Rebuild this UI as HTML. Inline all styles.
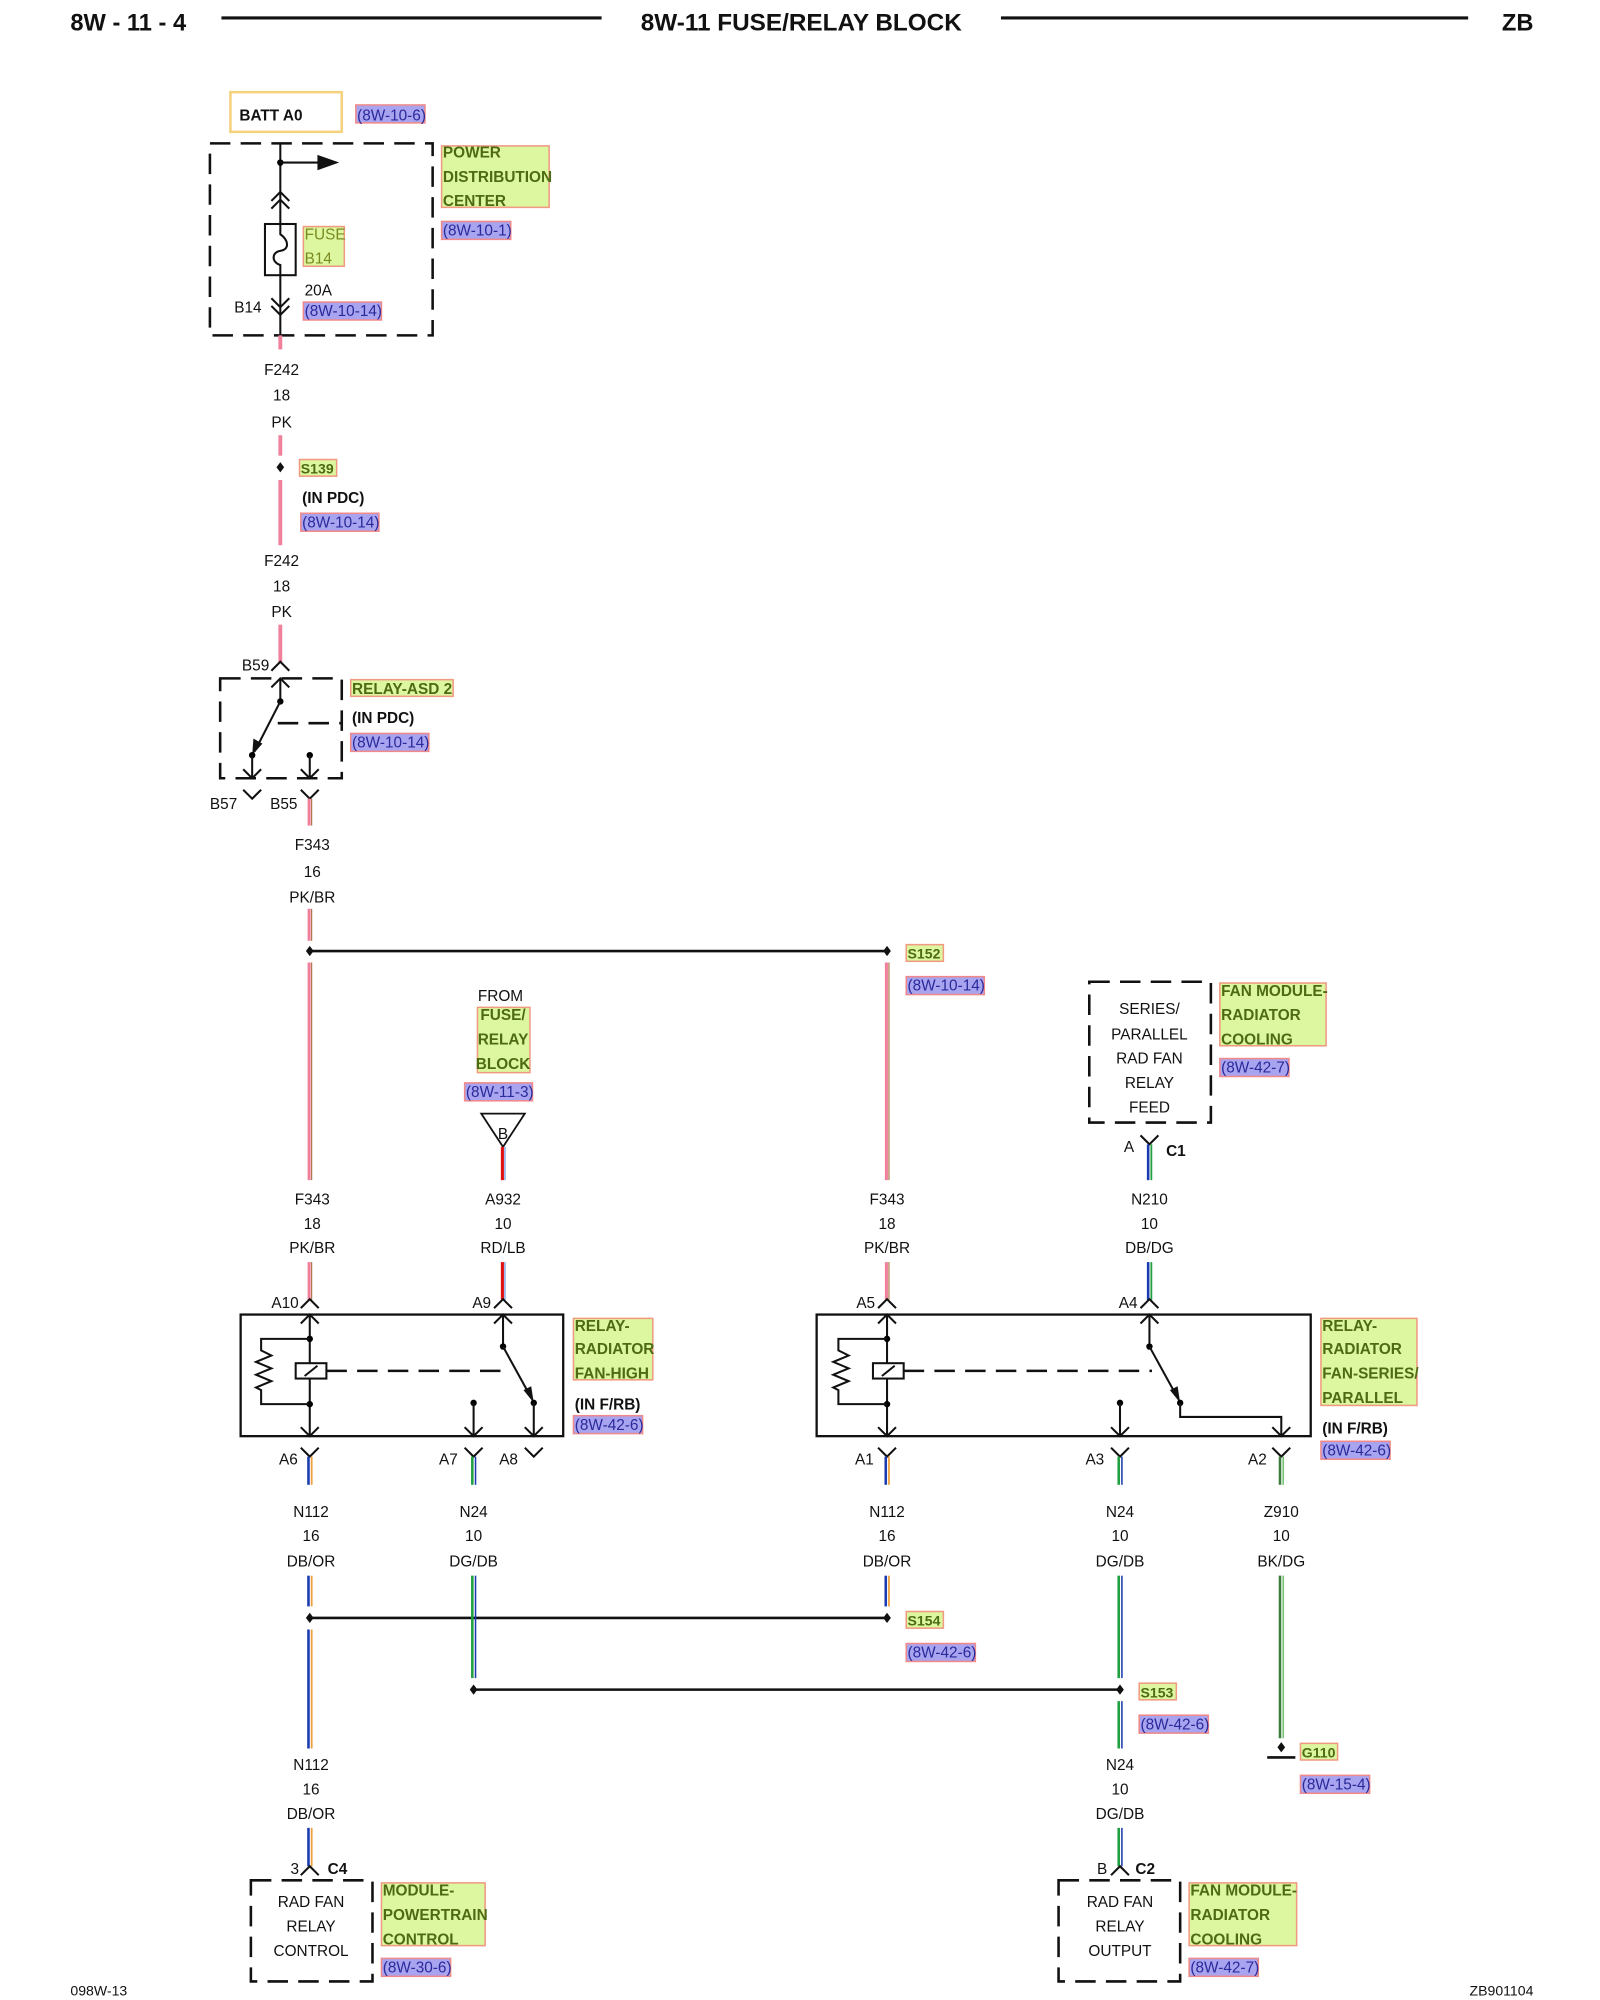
<!DOCTYPE html>
<html><head><meta charset="utf-8"><style>
html,body{margin:0;padding:0;background:#fff;}
svg{display:block;}
text{font-family:"Liberation Sans",Arial,sans-serif;font-size:12px;fill:#111;}
.b{font-weight:bold;}
.c{text-anchor:middle;}
.g{fill:#4d6b12;font-weight:bold;}
.gl{fill:#7a8a20;}
.r{fill:#2a2a9a;}
.gb{fill:#dcf7a0;stroke:#f09a80;stroke-width:1.2;}
.rb{fill:#a8a4f0;stroke:#f08a8a;stroke-width:1.2;}
.ln{stroke:#111;stroke-width:1.6;fill:none;}
.dash{stroke:#111;stroke-width:2;fill:none;stroke-dasharray:16,8;}
</style></head><body>
<svg width="1600" height="2000" viewBox="0 0 1250 1562.5" xmlns="http://www.w3.org/2000/svg">
<!-- header -->
<text x="55" y="24" class="b" style="font-size:18.5px">8W - 11 - 4</text>
<line x1="173" y1="14" x2="470" y2="14" stroke="#111" stroke-width="2.5"/>
<text x="626" y="24" class="b c" style="font-size:19px">8W-11 FUSE/RELAY BLOCK</text>
<line x1="782" y1="14" x2="1147" y2="14" stroke="#111" stroke-width="2.5"/>
<text x="1198" y="24" class="b" text-anchor="end" style="font-size:18.5px">ZB</text>

<!-- BATT -->
<rect x="180" y="72" width="87" height="31" fill="none" stroke="#f5d27e" stroke-width="2"/>
<text x="187" y="94" class="b">BATT A0</text>
<rect x="278" y="82" width="54" height="14" class="rb"/><text x="279" y="94" class="r">(8W-10-6)</text>

<!-- PDC -->
<rect x="164" y="112" width="174" height="150" class="dash"/>
<line x1="219" y1="112" x2="219" y2="175" class="ln"/>
<circle cx="219" cy="127" r="2.5"/>
<line x1="219" y1="127" x2="250" y2="127" class="ln"/>
<polygon points="248,121 265,127 248,133" fill="#111"/>
<path d="M212,157 L219,150 L226,157 M212,163 L219,156 L226,163" class="ln"/>
<rect x="207" y="175" width="24" height="40" class="ln"/>
<path d="M219,175 L219,183 C226,188 226,195 219,196 C212,197 212,205 219,207 L219,215" class="ln"/>
<line x1="219" y1="215" x2="219" y2="262" class="ln"/>
<path d="M212,233 L219,240 L226,233 M212,239 L219,246 L226,239" class="ln"/>
<text x="183" y="244">B14</text>
<rect x="237" y="177" width="32" height="31" class="gb"/>
<text x="238" y="187" class="gl">FUSE</text><text x="238" y="206" class="gl">B14</text>
<text x="238" y="231">20A</text>
<rect x="237" y="236" width="61" height="14" class="rb"/><text x="238" y="247" class="r">(8W-10-14)</text>
<rect x="345" y="114" width="84" height="48" class="gb"/>
<text x="346" y="123" class="g">POWER</text><text x="346" y="142" class="g">DISTRIBUTION</text><text x="346" y="161" class="g">CENTER</text>
<rect x="345" y="173" width="54" height="14" class="rb"/><text x="346" y="184" class="r">(8W-10-1)</text>

<!-- F242 -->
<line x1="219" y1="262" x2="219" y2="273" stroke="#f0809c" stroke-width="3"/>
<text x="220" y="293" class="c">F242</text><text x="220" y="313" class="c">18</text><text x="220" y="334" class="c">PK</text>
<line x1="219" y1="340" x2="219" y2="356" stroke="#f0809c" stroke-width="3"/>
<polygon points="219,361 222,365 219,369 216,365" fill="#111"/>
<rect x="234" y="359" width="29" height="13" class="gb"/><text x="235" y="370" class="g" style="font-size:11px">S139</text>
<text x="236" y="393" class="b">(IN PDC)</text>
<rect x="235" y="401" width="61" height="14" class="rb"/><text x="236" y="412" class="r">(8W-10-14)</text>
<line x1="219" y1="375" x2="219" y2="426" stroke="#f0809c" stroke-width="3"/>
<text x="220" y="442" class="c">F242</text><text x="220" y="462" class="c">18</text><text x="220" y="482" class="c">PK</text>
<line x1="219" y1="488" x2="219" y2="518" stroke="#f0809c" stroke-width="3"/>
<path d="M212,524 L219,517 L226,524" class="ln"/>
<text x="189" y="524">B59</text>

<!-- ASD relay -->
<rect x="172" y="530" width="95" height="78" class="dash"/>
<path d="M212,537 L219,530 L226,537" class="ln"/>
<line x1="219" y1="530" x2="219" y2="548" class="ln"/>
<circle cx="219" cy="548" r="2.5"/>
<line x1="219" y1="548" x2="199" y2="587" class="ln"/>
<polygon points="197,590 198,577 205,581" fill="#111"/>
<line x1="217" y1="565" x2="267" y2="565" class="dash"/>
<circle cx="197" cy="590" r="2.5"/><line x1="197" y1="590" x2="197" y2="608" class="ln"/>
<path d="M190,601 L197,608 L204,601" class="ln"/>
<circle cx="242" cy="590" r="2.5"/><line x1="242" y1="590" x2="242" y2="608" class="ln"/>
<path d="M235,601 L242,608 L249,601" class="ln"/>
<rect x="274" y="531" width="80" height="13" class="gb"/><text x="275" y="542" class="g">RELAY-ASD 2</text>
<text x="275" y="565" class="b">(IN PDC)</text>
<rect x="274" y="573" width="61" height="14" class="rb"/><text x="275" y="584" class="r">(8W-10-14)</text>
<path d="M190,617 L197,624 L204,617" class="ln"/><text x="164" y="632">B57</text>
<path d="M235,617 L242,624 L249,617" class="ln"/><text x="211" y="632">B55</text>

<!-- F343 -->
<line x1="241.5" y1="624" x2="241.5" y2="645" stroke="#f0809c" stroke-width="2.4"/><line x1="243.5" y1="624" x2="243.5" y2="645" stroke="#a0602a" stroke-width="0.8"/>
<text x="244" y="664" class="c">F343</text><text x="244" y="685" class="c">16</text><text x="244" y="705" class="c">PK/BR</text>
<line x1="241.5" y1="710" x2="241.5" y2="735" stroke="#f0809c" stroke-width="2.4"/><line x1="243.5" y1="710" x2="243.5" y2="735" stroke="#a0602a" stroke-width="0.8"/>
<polygon points="242,739 245,743 242,747 239,743" fill="#111"/>
<line x1="242" y1="743" x2="693" y2="743" stroke="#111" stroke-width="2"/>
<polygon points="693,739 696,743 693,747 690,743" fill="#111"/>
<rect x="708" y="738" width="29" height="13" class="gb"/><text x="709" y="749" class="g" style="font-size:11px">S152</text>
<rect x="708" y="763" width="61" height="14" class="rb"/><text x="709" y="774" class="r">(8W-10-14)</text>
<line x1="241.5" y1="752" x2="241.5" y2="922" stroke="#f0809c" stroke-width="2.4"/><line x1="243.5" y1="752" x2="243.5" y2="922" stroke="#a0602a" stroke-width="0.8"/>
<line x1="692.5" y1="752" x2="692.5" y2="922" stroke="#f0809c" stroke-width="2.4"/><line x1="694.5" y1="752" x2="694.5" y2="922" stroke="#a0602a" stroke-width="0.8"/>

<!-- from fuse relay block -->
<text x="391" y="782" class="c">FROM</text>
<rect x="373" y="787" width="41" height="51" class="gb"/>
<text x="393" y="797" class="g c">FUSE/</text><text x="393" y="816" class="g c">RELAY</text><text x="393" y="835" class="g c">BLOCK</text>
<rect x="363" y="846" width="53" height="14" class="rb"/><text x="364" y="857" class="r">(8W-11-3)</text>
<polygon points="376,870 410,870 393,896" fill="none" stroke="#111" stroke-width="1.4"/>
<text x="393" y="890" class="c">B</text>
<line x1="392.5" y1="896" x2="392.5" y2="922" stroke="#e01010" stroke-width="2.4"/><line x1="394.5" y1="896" x2="394.5" y2="922" stroke="#5080e0" stroke-width="0.8"/>

<!-- series parallel feed -->
<rect x="851" y="767" width="95" height="110" class="dash"/>
<text x="898" y="792" class="c">SERIES/</text><text x="898" y="812" class="c">PARALLEL</text><text x="898" y="831" class="c">RAD FAN</text><text x="898" y="850" class="c">RELAY</text><text x="898" y="869" class="c">FEED</text>
<rect x="953" y="768" width="83" height="49" class="gb"/>
<text x="954" y="778" class="g">FAN MODULE-</text><text x="954" y="797" class="g">RADIATOR</text><text x="954" y="816" class="g">COOLING</text>
<rect x="953" y="827" width="54" height="14" class="rb"/><text x="954" y="838" class="r">(8W-42-7)</text>
<path d="M891,887 L898,894 L905,887" class="ln"/>
<text x="878" y="900">A</text><text x="911" y="903" class="b">C1</text>
<line x1="897" y1="894" x2="897" y2="922" stroke="#1a3ab0" stroke-width="2"/><line x1="899.5" y1="894" x2="899.5" y2="922" stroke="#20a040" stroke-width="1.4"/>

<!-- wire labels row -->
<text x="244" y="941" class="c">F343</text><text x="244" y="960" class="c">18</text><text x="244" y="979" class="c">PK/BR</text>
<text x="393" y="941" class="c">A932</text><text x="393" y="960" class="c">10</text><text x="393" y="979" class="c">RD/LB</text>
<text x="693" y="941" class="c">F343</text><text x="693" y="960" class="c">18</text><text x="693" y="979" class="c">PK/BR</text>
<text x="898" y="941" class="c">N210</text><text x="898" y="960" class="c">10</text><text x="898" y="979" class="c">DB/DG</text>
<line x1="241.5" y1="986" x2="241.5" y2="1016" stroke="#f0809c" stroke-width="2.4"/><line x1="243.5" y1="986" x2="243.5" y2="1016" stroke="#a0602a" stroke-width="0.8"/>
<line x1="392.5" y1="986" x2="392.5" y2="1016" stroke="#e01010" stroke-width="2.4"/><line x1="394.5" y1="986" x2="394.5" y2="1016" stroke="#5080e0" stroke-width="0.8"/>
<line x1="692.5" y1="986" x2="692.5" y2="1016" stroke="#f0809c" stroke-width="2.4"/><line x1="694.5" y1="986" x2="694.5" y2="1016" stroke="#a0602a" stroke-width="0.8"/>
<line x1="897" y1="986" x2="897" y2="1016" stroke="#1a3ab0" stroke-width="2"/><line x1="899.5" y1="986" x2="899.5" y2="1016" stroke="#20a040" stroke-width="1.4"/>
<path d="M235,1022 L242,1015 L249,1022" class="ln"/><text x="212" y="1022">A10</text>
<path d="M386,1022 L393,1015 L400,1022" class="ln"/><text x="369" y="1022">A9</text>
<path d="M686,1022 L693,1015 L700,1022" class="ln"/><text x="669" y="1022">A5</text>
<path d="M891,1022 L898,1015 L905,1022" class="ln"/><text x="874" y="1022">A4</text>

<!-- relay 1 -->
<rect x="188" y="1027" width="252" height="95" fill="none" stroke="#111" stroke-width="1.8"/>
<line x1="242" y1="1027" x2="242" y2="1122" class="ln"/>
<path d="M235,1034 L242,1027 L249,1034 M235,1115 L242,1122 L249,1115" class="ln"/>
<circle cx="242" cy="1046" r="2.5"/><circle cx="242" cy="1097" r="2.5"/>
<path d="M242,1046 L204,1046 L204,1055 L212,1059 L200,1064 L212,1069 L200,1074 L212,1079 L200,1084 L204,1086 L204,1097 L242,1097" class="ln"/>
<rect x="231" y="1065" width="24" height="12" fill="#fff" stroke="#111" stroke-width="1.6"/>
<line x1="238" y1="1075" x2="248" y2="1067" class="ln"/>
<line x1="255" y1="1071" x2="393" y2="1071" class="dash" stroke-width="1.4"/>
<line x1="393" y1="1027" x2="393" y2="1052" class="ln"/>
<path d="M386,1034 L393,1027 L400,1034" class="ln"/>
<circle cx="393" cy="1052" r="2.5"/>
<line x1="393" y1="1052" x2="415" y2="1092" class="ln"/>
<polygon points="417,1096 409,1086 415,1083" fill="#111"/>
<circle cx="417" cy="1096" r="2.5"/><line x1="417" y1="1096" x2="417" y2="1122" class="ln"/>
<path d="M410,1115 L417,1122 L424,1115" class="ln"/>
<circle cx="370" cy="1096" r="2.5"/><line x1="370" y1="1096" x2="370" y2="1122" class="ln"/>
<path d="M363,1115 L370,1122 L377,1115" class="ln"/>
<rect x="448" y="1030" width="62" height="48" class="gb"/>
<text x="449" y="1040" class="g">RELAY-</text><text x="449" y="1058" class="g">RADIATOR</text><text x="449" y="1077" class="g">FAN-HIGH</text>
<text x="449" y="1101" class="b">(IN F/RB)</text>
<rect x="448" y="1106" width="54" height="14" class="rb"/><text x="449" y="1117" class="r">(8W-42-6)</text>

<!-- relay 2 -->
<rect x="638" y="1027" width="386" height="95" fill="none" stroke="#111" stroke-width="1.8"/>
<line x1="693" y1="1027" x2="693" y2="1122" class="ln"/>
<path d="M686,1034 L693,1027 L700,1034 M686,1115 L693,1122 L700,1115" class="ln"/>
<circle cx="693" cy="1046" r="2.5"/><circle cx="693" cy="1097" r="2.5"/>
<path d="M693,1046 L655,1046 L655,1055 L663,1059 L651,1064 L663,1069 L651,1074 L663,1079 L651,1084 L655,1086 L655,1097 L693,1097" class="ln"/>
<rect x="682" y="1065" width="24" height="12" fill="#fff" stroke="#111" stroke-width="1.6"/>
<line x1="689" y1="1075" x2="699" y2="1067" class="ln"/>
<line x1="706" y1="1071" x2="900" y2="1071" class="dash" stroke-width="1.4"/>
<line x1="898" y1="1027" x2="898" y2="1052" class="ln"/>
<path d="M891,1034 L898,1027 L905,1034" class="ln"/>
<circle cx="898" cy="1052" r="2.5"/>
<line x1="898" y1="1052" x2="920" y2="1092" class="ln"/>
<polygon points="922,1096 914,1086 920,1083" fill="#111"/>
<circle cx="922" cy="1096" r="2.5"/>
<path d="M922,1096 L922,1107 L1001,1107 L1001,1122" class="ln"/>
<path d="M994,1115 L1001,1122 L1008,1115" class="ln"/>
<circle cx="875" cy="1096" r="2.5"/><line x1="875" y1="1096" x2="875" y2="1122" class="ln"/>
<path d="M868,1115 L875,1122 L882,1115" class="ln"/>
<rect x="1032" y="1030" width="75" height="68" class="gb"/>
<text x="1033" y="1040" class="g">RELAY-</text><text x="1033" y="1058" class="g">RADIATOR</text><text x="1033" y="1077" class="g">FAN-SERIES/</text><text x="1033" y="1096" class="g">PARALLEL</text>
<text x="1033" y="1120" class="b">(IN F/RB)</text>
<rect x="1032" y="1126" width="54" height="14" class="rb"/><text x="1033" y="1137" class="r">(8W-42-6)</text>

<!-- lower pins -->
<path d="M235,1131 L242,1138 L249,1131" class="ln"/><text x="218" y="1144">A6</text>
<path d="M363,1131 L370,1138 L377,1131" class="ln"/><text x="343" y="1144">A7</text>
<path d="M410,1131 L417,1138 L424,1131" class="ln"/><text x="390" y="1144">A8</text>
<path d="M686,1131 L693,1138 L700,1131" class="ln"/><text x="668" y="1144">A1</text>
<path d="M868,1131 L875,1138 L882,1131" class="ln"/><text x="848" y="1144">A3</text>
<path d="M994,1131 L1001,1138 L1008,1131" class="ln"/><text x="975" y="1144">A2</text>
<line x1="241" y1="1138" x2="241" y2="1160" stroke="#1a3ab0" stroke-width="2"/><line x1="243.5" y1="1138" x2="243.5" y2="1160" stroke="#f0a040" stroke-width="1.4"/>
<line x1="369" y1="1138" x2="369" y2="1160" stroke="#20a040" stroke-width="2"/><line x1="371.5" y1="1138" x2="371.5" y2="1160" stroke="#1a3ab0" stroke-width="1.2"/>
<line x1="692" y1="1138" x2="692" y2="1160" stroke="#1a3ab0" stroke-width="2"/><line x1="694.5" y1="1138" x2="694.5" y2="1160" stroke="#f0a040" stroke-width="1.4"/>
<line x1="874" y1="1138" x2="874" y2="1160" stroke="#20a040" stroke-width="2"/><line x1="876.5" y1="1138" x2="876.5" y2="1160" stroke="#1a3ab0" stroke-width="1.2"/>
<line x1="1000" y1="1138" x2="1000" y2="1160" stroke="#3a7a3a" stroke-width="2"/><line x1="1002.5" y1="1138" x2="1002.5" y2="1160" stroke="#70c070" stroke-width="1.2"/>
<text x="243" y="1185" class="c">N112</text><text x="243" y="1204" class="c">16</text><text x="243" y="1224" class="c">DB/OR</text>
<text x="370" y="1185" class="c">N24</text><text x="370" y="1204" class="c">10</text><text x="370" y="1224" class="c">DG/DB</text>
<text x="693" y="1185" class="c">N112</text><text x="693" y="1204" class="c">16</text><text x="693" y="1224" class="c">DB/OR</text>
<text x="875" y="1185" class="c">N24</text><text x="875" y="1204" class="c">10</text><text x="875" y="1224" class="c">DG/DB</text>
<text x="1001" y="1185" class="c">Z910</text><text x="1001" y="1204" class="c">10</text><text x="1001" y="1224" class="c">BK/DG</text>

<!-- lower wires -->
<line x1="241" y1="1231" x2="241" y2="1255" stroke="#1a3ab0" stroke-width="2"/><line x1="243.5" y1="1231" x2="243.5" y2="1255" stroke="#f0a040" stroke-width="1.4"/>
<line x1="692" y1="1231" x2="692" y2="1255" stroke="#1a3ab0" stroke-width="2"/><line x1="694.5" y1="1231" x2="694.5" y2="1255" stroke="#f0a040" stroke-width="1.4"/>
<polygon points="242,1260 245,1264 242,1268 239,1264" fill="#111"/>
<polygon points="693,1260 696,1264 693,1268 690,1264" fill="#111"/>
<line x1="242" y1="1264" x2="693" y2="1264" stroke="#111" stroke-width="2"/>
<rect x="708" y="1259" width="29" height="13" class="gb"/><text x="709" y="1270" class="g" style="font-size:11px">S154</text>
<rect x="708" y="1284" width="54" height="14" class="rb"/><text x="709" y="1295" class="r">(8W-42-6)</text>
<line x1="241" y1="1273" x2="241" y2="1366" stroke="#1a3ab0" stroke-width="2"/><line x1="243.5" y1="1273" x2="243.5" y2="1366" stroke="#f0a040" stroke-width="1.4"/>
<line x1="369" y1="1231" x2="369" y2="1311" stroke="#20a040" stroke-width="2"/><line x1="371.5" y1="1231" x2="371.5" y2="1311" stroke="#1a3ab0" stroke-width="1.2"/>
<line x1="874" y1="1231" x2="874" y2="1311" stroke="#20a040" stroke-width="2"/><line x1="876.5" y1="1231" x2="876.5" y2="1311" stroke="#1a3ab0" stroke-width="1.2"/>
<polygon points="370,1316 373,1320 370,1324 367,1320" fill="#111"/>
<polygon points="875,1316 878,1320 875,1324 872,1320" fill="#111"/>
<line x1="370" y1="1320" x2="875" y2="1320" stroke="#111" stroke-width="2"/>
<rect x="890" y="1315" width="29" height="13" class="gb"/><text x="891" y="1326" class="g" style="font-size:11px">S153</text>
<rect x="890" y="1340" width="54" height="14" class="rb"/><text x="891" y="1351" class="r">(8W-42-6)</text>
<line x1="874" y1="1329" x2="874" y2="1366" stroke="#20a040" stroke-width="2"/><line x1="876.5" y1="1329" x2="876.5" y2="1366" stroke="#1a3ab0" stroke-width="1.2"/>
<line x1="1000" y1="1231" x2="1000" y2="1358" stroke="#3a7a3a" stroke-width="2"/><line x1="1002.5" y1="1231" x2="1002.5" y2="1358" stroke="#70c070" stroke-width="1.2"/>
<polygon points="1001,1361 1004,1365 1001,1369 998,1365" fill="#111"/>
<line x1="990" y1="1373" x2="1012" y2="1373" stroke="#111" stroke-width="2"/>
<rect x="1016" y="1362" width="29" height="13" class="gb"/><text x="1017" y="1373" class="g" style="font-size:11px">G110</text>
<rect x="1016" y="1387" width="54" height="14" class="rb"/><text x="1017" y="1398" class="r">(8W-15-4)</text>

<text x="243" y="1383" class="c">N112</text><text x="243" y="1402" class="c">16</text><text x="243" y="1421" class="c">DB/OR</text>
<text x="875" y="1383" class="c">N24</text><text x="875" y="1402" class="c">10</text><text x="875" y="1421" class="c">DG/DB</text>
<line x1="241" y1="1428" x2="241" y2="1458" stroke="#1a3ab0" stroke-width="2"/><line x1="243.5" y1="1428" x2="243.5" y2="1458" stroke="#f0a040" stroke-width="1.4"/>
<line x1="874" y1="1428" x2="874" y2="1458" stroke="#20a040" stroke-width="2"/><line x1="876.5" y1="1428" x2="876.5" y2="1458" stroke="#1a3ab0" stroke-width="1.2"/>
<path d="M235,1465 L242,1458 L249,1465" class="ln"/><text x="227" y="1464">3</text><text x="256" y="1464" class="b">C4</text>
<path d="M868,1465 L875,1458 L882,1465" class="ln"/><text x="857" y="1464">B</text><text x="887" y="1464" class="b">C2</text>

<!-- bottom boxes -->
<rect x="196" y="1469" width="95" height="79" class="dash"/>
<text x="243" y="1490" class="c">RAD FAN</text><text x="243" y="1509" class="c">RELAY</text><text x="243" y="1528" class="c">CONTROL</text>
<rect x="298" y="1471" width="81" height="49" class="gb"/>
<text x="299" y="1481" class="g">MODULE-</text><text x="299" y="1500" class="g">POWERTRAIN</text><text x="299" y="1519" class="g">CONTROL</text>
<rect x="298" y="1530" width="54" height="14" class="rb"/><text x="299" y="1541" class="r">(8W-30-6)</text>
<rect x="827" y="1469" width="95" height="79" class="dash"/>
<text x="875" y="1490" class="c">RAD FAN</text><text x="875" y="1509" class="c">RELAY</text><text x="875" y="1528" class="c">OUTPUT</text>
<rect x="929" y="1471" width="84" height="49" class="gb"/>
<text x="930" y="1481" class="g">FAN MODULE-</text><text x="930" y="1500" class="g">RADIATOR</text><text x="930" y="1519" class="g">COOLING</text>
<rect x="929" y="1530" width="54" height="14" class="rb"/><text x="930" y="1541" class="r">(8W-42-7)</text>

<text x="55" y="1559" style="font-size:11px">098W-13</text>
<text x="1198" y="1559" text-anchor="end" style="font-size:11px">ZB901104</text>
</svg>
</body></html>
